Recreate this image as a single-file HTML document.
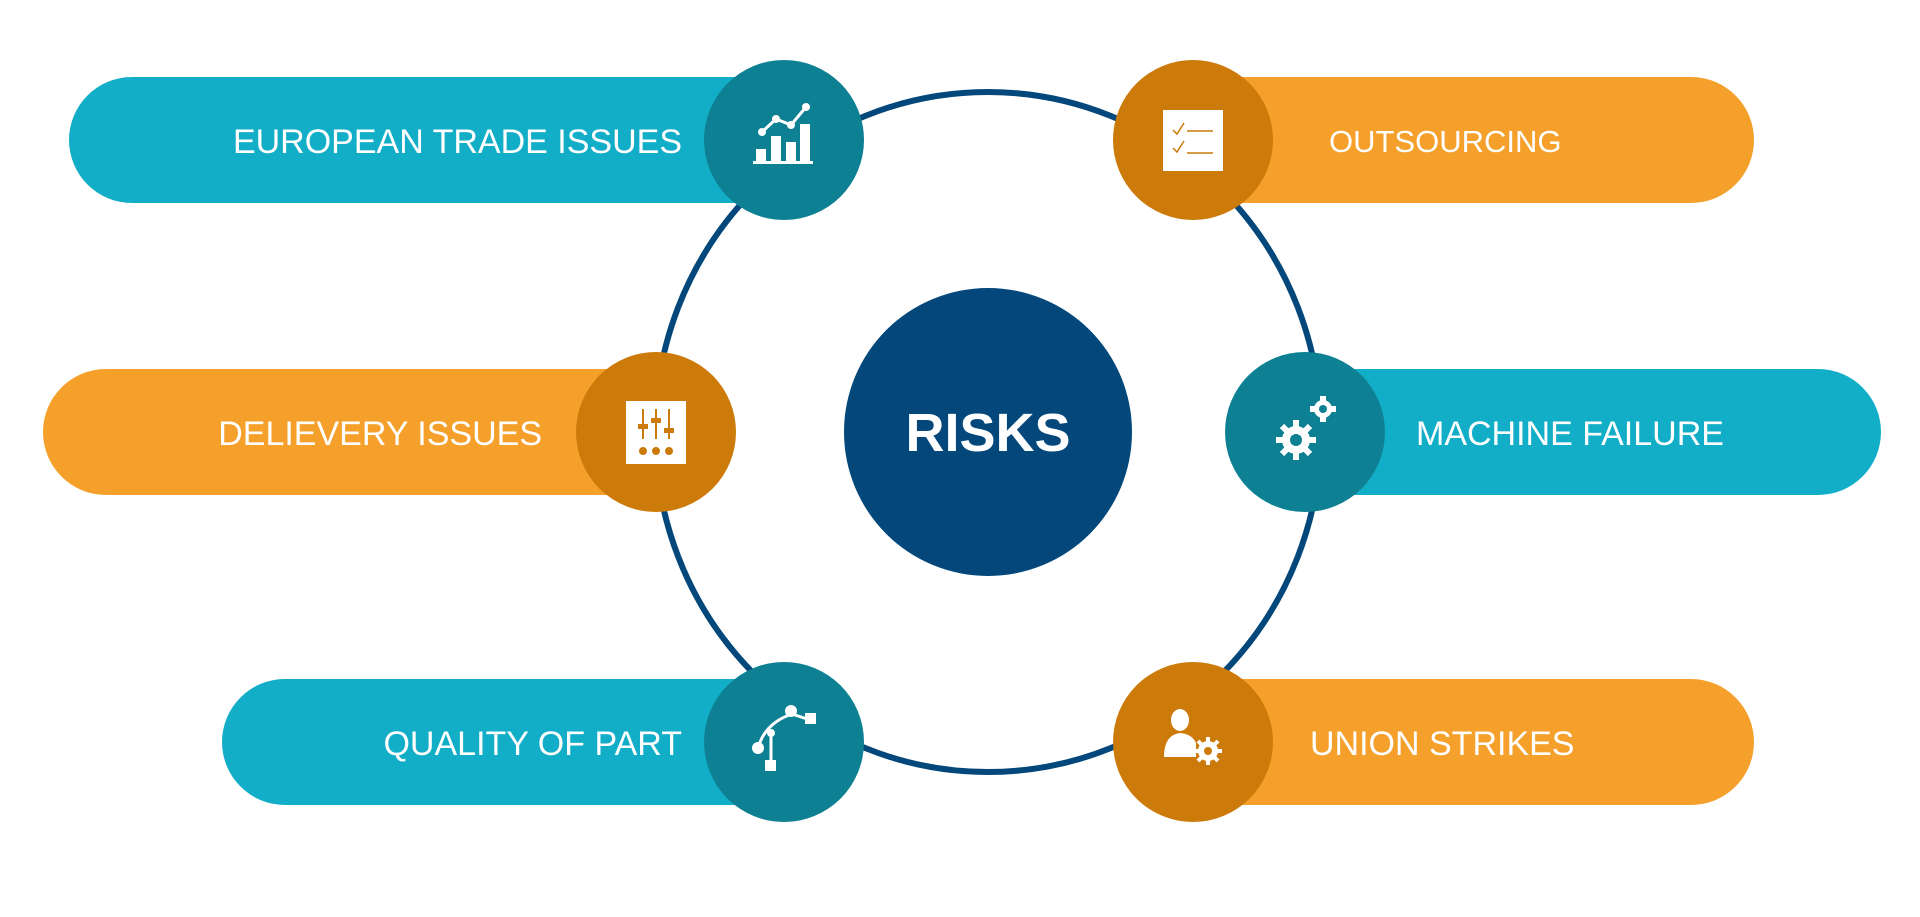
<!DOCTYPE html>
<html><head><meta charset="utf-8"><style>
html,body{margin:0;padding:0;background:#fff;width:1920px;height:917px;overflow:hidden}
svg{display:block}
text{font-family:"Liberation Sans",sans-serif;fill:#fff}
</style></head><body>
<svg width="1920" height="917" viewBox="0 0 1920 917" xmlns="http://www.w3.org/2000/svg">
<ellipse cx="988" cy="432" rx="333" ry="340" fill="none" stroke="#03477b" stroke-width="6"/>
<circle cx="988" cy="432" r="144" fill="#03477b"/>
<text x="988" y="451" font-size="54" font-weight="bold" text-anchor="middle">RISKS</text>

<rect x="69" y="77" width="740" height="126" rx="63" fill="#12aec8"/>
<rect x="43" y="369" width="640" height="126" rx="63" fill="#f4a02a"/>
<rect x="222" y="679" width="590" height="126" rx="63" fill="#12aec8"/>
<rect x="1170" y="77" width="584" height="126" rx="63" fill="#f4a02a"/>
<rect x="1280" y="369" width="601" height="126" rx="63" fill="#12aec8"/>
<rect x="1170" y="679" width="584" height="126" rx="63" fill="#f4a02a"/>

<g font-size="34">
<text x="682" y="153" text-anchor="end">EUROPEAN TRADE ISSUES</text>
<text x="542" y="445" text-anchor="end">DELIEVERY ISSUES</text>
<text x="682" y="755" text-anchor="end">QUALITY OF PART</text>
<text x="1329" y="152" font-size="31">OUTSOURCING</text>
<text x="1416" y="445">MACHINE FAILURE</text>
<text x="1310" y="755">UNION STRIKES</text>
</g>

<circle cx="784" cy="140" r="80" fill="#0e8093"/>
<circle cx="656" cy="432" r="80" fill="#cc7a0a"/>
<circle cx="784" cy="742" r="80" fill="#0e8093"/>
<circle cx="1193" cy="140" r="80" fill="#cc7a0a"/>
<circle cx="1305" cy="432" r="80" fill="#0e8093"/>
<circle cx="1193" cy="742" r="80" fill="#cc7a0a"/>

<g transform="translate(0,-7)" fill="#fff" stroke="#fff">
<rect x="756" y="156" width="10" height="12" stroke="none"/>
<rect x="771" y="143" width="10" height="25" stroke="none"/>
<rect x="786" y="149" width="10" height="19" stroke="none"/>
<rect x="800" y="131" width="10" height="37" stroke="none"/>
<rect x="753" y="168" width="60" height="3" stroke="none"/>
<polyline points="762,139 776,126 791,132 806,114" fill="none" stroke-width="3"/>
<circle cx="762" cy="139" r="4" stroke="none"/><circle cx="776" cy="126" r="4" stroke="none"/>
<circle cx="791" cy="132" r="4" stroke="none"/><circle cx="806" cy="114" r="4" stroke="none"/>
</g>
<g transform="translate(0,-21)">
<rect x="626" y="422" width="60" height="63" fill="#fff"/>
<g stroke="#cc7a0a" stroke-width="2" fill="#cc7a0a">
<line x1="643" y1="430" x2="643" y2="460"/><line x1="656" y1="430" x2="656" y2="460"/><line x1="669" y1="430" x2="669" y2="460"/>
<rect x="639" y="446" width="8" height="3"/><rect x="652" y="440" width="8" height="3"/><rect x="665" y="450" width="8" height="3"/>
<circle cx="643" cy="472" r="3"/><circle cx="656" cy="472" r="3"/><circle cx="669" cy="472" r="3"/>
</g>
</g>
<g transform="translate(0,-35)" fill="#fff" stroke="#fff">
<path d="M758 783 Q765 758 792 749" fill="none" stroke-width="3"/>
<path d="M771 770 L771 795" stroke-width="3"/>
<line x1="792" y1="749" x2="810" y2="755" stroke-width="3"/>
<circle cx="758" cy="783" r="6" stroke="none"/><circle cx="791" cy="746" r="6" stroke="none"/>
<circle cx="771" cy="768" r="4" stroke="none"/>
<rect x="805" y="748" width="11" height="11" stroke="none"/><rect x="765" y="795" width="11" height="11" stroke="none"/>
</g>
<g transform="translate(0,-7)">
<rect x="1163" y="117" width="60" height="61" fill="#fff"/>
<g stroke="#cc7a0a" stroke-width="1.5" fill="none">
<polyline points="1173,137 1177,141 1184,130"/><line x1="1187" y1="138" x2="1213" y2="138"/>
<polyline points="1173,155 1177,159 1184,148"/><line x1="1187" y1="160" x2="1213" y2="160"/>
</g>
</g>
<g transform="translate(0,-21)" fill="#fff">
<circle cx="1296" cy="461" r="14"/>
<circle cx="1323" cy="430" r="9"/>
<g stroke="#fff" stroke-width="6">
<line x1="1296" y1="441" x2="1296" y2="481"/><line x1="1276" y1="461" x2="1316" y2="461"/>
<line x1="1282" y1="447" x2="1310" y2="475"/><line x1="1310" y1="447" x2="1282" y2="475"/>
<line x1="1323" y1="417" x2="1323" y2="443"/><line x1="1310" y1="430" x2="1336" y2="430"/>
</g>
<circle cx="1296" cy="461" r="6" fill="#0e8093"/>
<circle cx="1323" cy="430" r="4" fill="#0e8093"/>
</g>
<g transform="translate(0,-35)" fill="#fff">
<ellipse cx="1180" cy="755" rx="9" ry="11"/>
<path d="M1164 792 Q1164 770 1180 768 Q1192 769 1196 778 L1196 792 Z"/>
<circle cx="1208" cy="786" r="10"/>
<g stroke="#fff" stroke-width="4"><line x1="1208" y1="772" x2="1208" y2="800"/><line x1="1194" y1="786" x2="1222" y2="786"/><line x1="1198" y1="776" x2="1218" y2="796"/><line x1="1218" y1="776" x2="1198" y2="796"/></g>
<circle cx="1208" cy="786" r="4" fill="#cc7a0a"/>
</g>
</svg>
</body></html>
